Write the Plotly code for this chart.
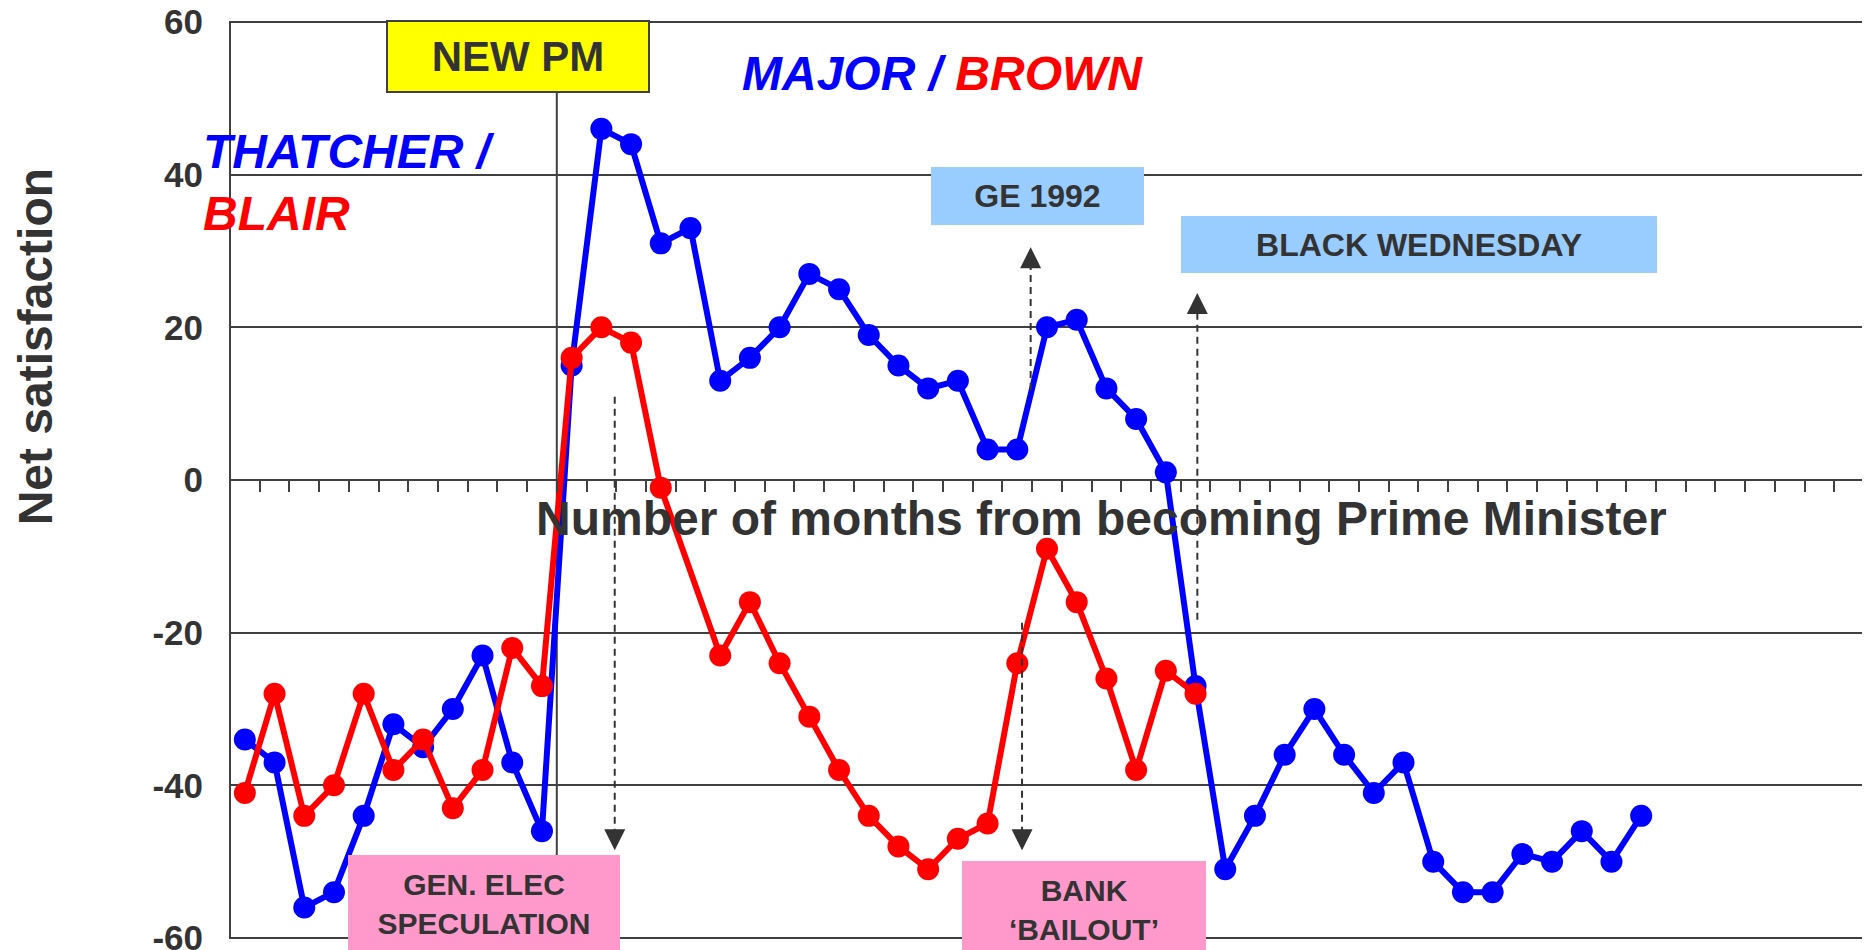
import plotly.graph_objects as go

# ---------------- data ----------------
months_blue = list(range(-11, 37))   # Thatcher / Major
months_red = list(range(-11, 22))    # Blair / Brown

major = [-34, -37, -56, -54, -44, -32, -35, -30, -23, -37, -46,
         15, 46, 44, 31, 33, 13, 16, 20, 27, 25, 19, 15, 12, 13, 4, 4,
         20, 21, 12, 8, 1, -27, -51, -44, -36, -30, -36, -41, -37, -50,
         -54, -54, -49, -50, -46, -50, -44]

brown = [-41, -28, -44, -40, -28, -38, -34, -43, -38, -22, -27,
         16, 20, 18, -1, None, -23, -16, -24, -31, -38, -44, -48, -51,
         -47, -45, -24, -9, -16, -26, -38, -25, -28]

y_ticks = [-60, -40, -20, 0, 20, 40, 60]

FONT = "Liberation Sans"
DARK = "#333333"
GRID = "#404040"
BLUE = "#0000FF"
RED = "#FF0000"

fig = go.Figure()

fig.add_trace(go.Scatter(
    x=months_blue, y=major, mode="lines+markers", name="Thatcher / Major",
    line=dict(color=BLUE, width=6), marker=dict(color=BLUE, size=22),
    showlegend=False, cliponaxis=False))
fig.add_trace(go.Scatter(
    x=months_red, y=brown, mode="lines+markers", name="Blair / Brown",
    line=dict(color=RED, width=6), marker=dict(color=RED, size=22),
    connectgaps=True, showlegend=False, cliponaxis=False))

shapes = []
# plot-area border
shapes.append(dict(type="rect", xref="paper", yref="paper", x0=0, x1=1, y0=0, y1=1,
                   line=dict(color=GRID, width=2), layer="above"))
# NEW PM vertical line
shapes.append(dict(type="line", xref="x", yref="y", x0=-0.5, x1=-0.5, y0=-60, y1=50.8,
                   line=dict(color=GRID, width=2), layer="below"))
# dashed arrow shafts
for (xx, y0, y1) in [(1.45, 10.9, -46.5), (15.16, -18.7, -46.5),
                     (15.45, 11.8, 28.5), (21.06, -18.3, 22.6)]:
    shapes.append(dict(type="line", xref="x", yref="y", x0=xx, x1=xx, y0=y0, y1=y1,
                       line=dict(color=DARK, width=2, dash="7px,5px")))

annotations = []
# arrow heads
for (xx, yy, ay) in [(1.45, -48.5, -18), (15.16, -48.5, -18),
                     (15.45, 30.5, 18), (21.06, 24.5, 18)]:
    annotations.append(dict(x=xx, y=yy, xref="x", yref="y", ax=0, ay=ay, text="",
                            showarrow=True, arrowhead=2, arrowsize=2.8, arrowwidth=1.5,
                            arrowcolor=DARK, standoff=0))

def box(x, y, text, w, h, bg, size, border=0):
    return dict(x=x, y=y, xref="x", yref="y", text=text, showarrow=False,
                xanchor="center", yanchor="middle", width=w, height=h,
                bgcolor=bg, borderpad=0, borderwidth=border,
                bordercolor=GRID, align="center", valign="middle",
                font=dict(family=FONT, size=size, color=DARK, weight="bold"))

annotations.append(box(-1.794, 55.53, "NEW PM", 260, 69, "#FFFF00", 42, border=2))
annotations.append(box(15.677, 37.21, "GE 1992", 213, 58, "#99CCFF", 32))
annotations.append(box(28.52, 30.83, "BLACK WEDNESDAY", 476, 57, "#99CCFF", 32))
annotations.append(box(-2.944, -55.55, "GEN. ELEC<br>SPECULATION", 272, 98, "#FF99CC", 30))
annotations.append(box(17.235, -56.33, "BANK<br>\u2018BAILOUT\u2019", 244, 98, "#FF99CC", 30))

# PM name labels
annotations.append(dict(
    x=-0.0178, y=0.825, xref="paper", yref="paper", xanchor="left", yanchor="middle",
    align="left", showarrow=False,
    text=f"<span style='color:{BLUE}'>THATCHER /</span><br><span style='color:{RED}'>BLAIR</span>",
    font=dict(family=FONT, size=48, weight="bold", style="italic")))
annotations.append(dict(
    x=12.47, y=53.2, xref="x", yref="y", xanchor="center", yanchor="middle",
    showarrow=False,
    text=f"<span style='color:{BLUE}'>MAJOR / </span><span style='color:{RED}'>BROWN</span>",
    font=dict(family=FONT, size=48, weight="bold", style="italic")))

# axis titles
annotations.append(dict(
    x=17.85, y=-5.1, xref="x", yref="y", xanchor="center", yanchor="middle",
    showarrow=False, text="Number of months from becoming Prime Minister",
    font=dict(family=FONT, size=48, weight="bold", color=DARK)))
annotations.append(dict(
    x=-0.1185, y=0.6452, xref="paper", yref="paper", xanchor="center", yanchor="middle",
    showarrow=False, text="Net satisfaction", textangle=-90,
    font=dict(family=FONT, size=48, weight="bold", color=DARK)))

# page body has an 8px margin: figure is 1862x942 placed at (8, 8)
fig.update_layout(
    width=1862, height=942,
    margin=dict(l=222, r=6, t=14, b=12, autoexpand=False),
    paper_bgcolor="white", plot_bgcolor="white",
    shapes=shapes, annotations=annotations,
    xaxis=dict(range=[-11.5, 43.5], anchor="free", position=0.5,
               showgrid=False, zeroline=False, showline=False, automargin=False,
               ticks="outside", ticklen=11, tickwidth=1.5, tickcolor=GRID,
               tickmode="linear", tick0=-10.5, dtick=1, showticklabels=False),
    yaxis=dict(range=[-60, 60], tickmode="array", tickvals=y_ticks,
               ticktext=[str(v) for v in y_ticks], automargin=False,
               showgrid=True, gridcolor=GRID, gridwidth=2,
               zeroline=True, zerolinecolor=GRID, zerolinewidth=2,
               showline=False, ticks="", ticklabelstandoff=26,
               ticklabeloverflow="allow",
               tickfont=dict(family=FONT, size=35, color=DARK, weight="bold")),
)

fig.write_html("out.html")
